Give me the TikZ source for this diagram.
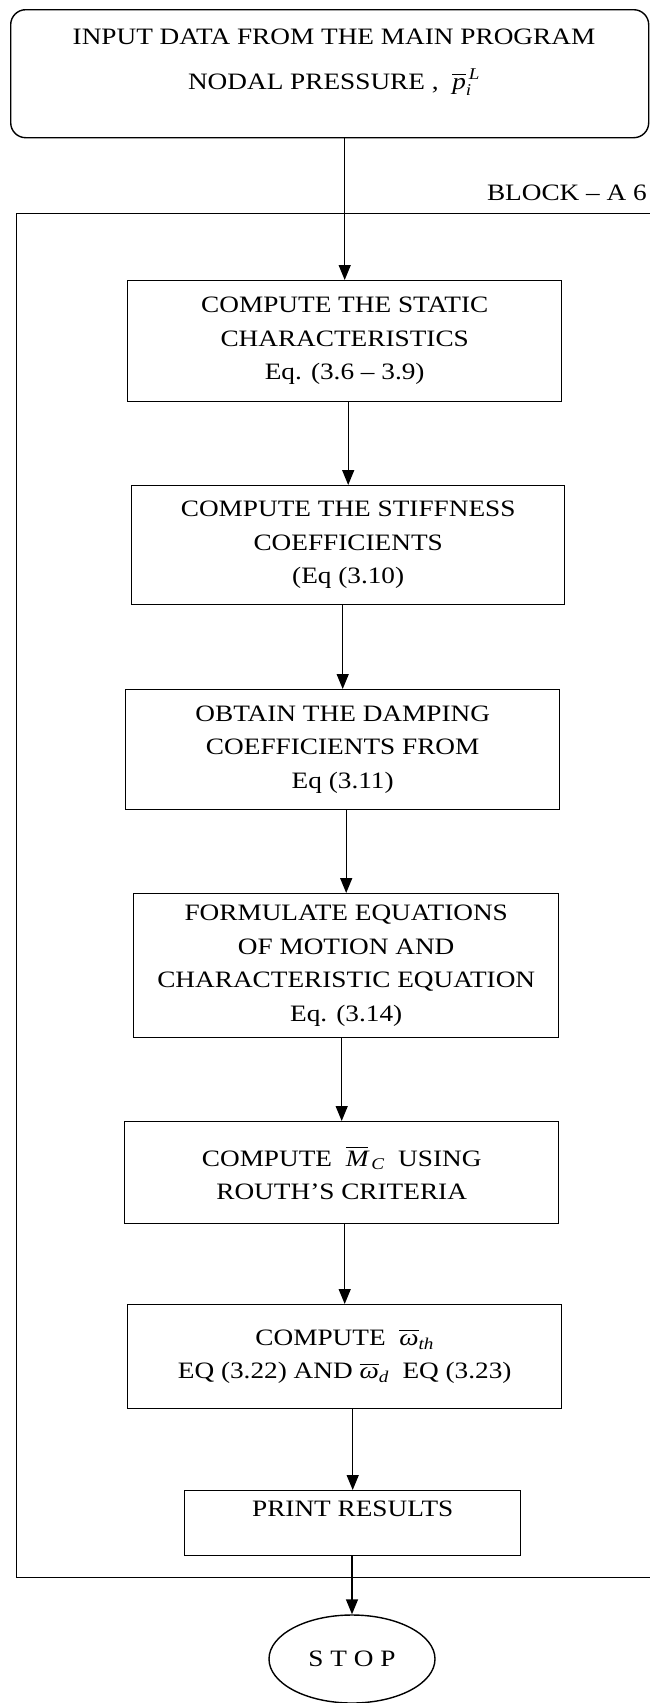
\documentclass[tikz,border=0pt]{standalone}
\usepackage{amsmath}
\usepackage{fontspec}
\setmainfont[FakeStretch=1.16]{Liberation Serif}
\usetikzlibrary{arrows.meta,shapes.geometric}
\newcommand{\itx}[1]{\text{\itshape #1}}
\begin{document}
\begin{tikzpicture}[x=1pt,y=-1pt,
  box/.style={draw, line width=1.4pt, align=center, inner sep=0pt, anchor=north west,
    font=\fontsize{23.5}{33.5}\selectfont},
  arr/.style={line width=1.4pt, -{Triangle[length=15pt,width=12pt]}}]
\useasboundingbox (0,0) rectangle (649,1703);
% top input box
\node[draw, line width=1.4pt, rounded corners=15pt, anchor=north west,
  minimum width=638pt, minimum height=128pt, inner sep=0pt] (in) at (10,9) {};
\node[align=center, font=\fontsize{23.5}{45}\selectfont, inner sep=0pt] (intext) at (334,62)
  {INPUT DATA FROM THE MAIN PROGRAM\\NODAL PRESSURE ,\ \ $\overline{\itx{p}}_{\itx{i}}^{\,\itx{L}}$};
% block frame
\node[draw, line width=1.4pt, anchor=north west, minimum width=660pt, minimum height=1364pt,
  inner sep=0pt] (frame) at (16,213) {};
\node[anchor=base east, font=\fontsize{23.5}{30}\selectfont, inner sep=0pt] (blk) at (647,200) {BLOCK -- A 6};
% process boxes
\node[box, minimum width=434pt, minimum height=121pt] (b1) at (127,280)
  {COMPUTE THE STATIC\\CHARACTERISTICS\\Eq. (3.6 -- 3.9)};
\node[box, minimum width=433pt, minimum height=119pt] (b2) at (131,485)
  {COMPUTE THE STIFFNESS\\COEFFICIENTS\\(Eq (3.10)};
\node[box, minimum width=434pt, minimum height=120pt] (b3) at (125,689)
  {OBTAIN THE DAMPING\\COEFFICIENTS FROM\\Eq (3.11)};
\node[box, minimum width=425pt, minimum height=144pt] (b4) at (133,893)
  {FORMULATE EQUATIONS\\OF MOTION AND\\CHARACTERISTIC EQUATION\\Eq. (3.14)};
\node[box, minimum width=434pt, minimum height=102pt] (b5) at (124,1121)
  {COMPUTE\ \ $\overline{\itx{M}}_{\,\itx{C}}$\ \ USING\\ROUTH'S CRITERIA};
\node[box, minimum width=434pt, minimum height=104pt] (b6) at (127,1304)
  {COMPUTE\ \ $\overline{\itx{ω}}_{\itx{th}}$\\EQ (3.22) AND\ $\overline{\itx{ω}}_{\itx{d}}$\ \ EQ (3.23)};
\node[box, minimum width=336pt, minimum height=65pt, text height=12pt, text depth=26pt] (pr) at (184,1490)
  {PRINT RESULTS};
\node[draw, line width=1.4pt, ellipse, minimum width=166pt, minimum height=88pt, inner sep=0pt,
  font=\fontsize{23.5}{28}\selectfont] (stop) at (352,1659) {S T O P};
% connectors
\draw[arr] (b1.north |- in.south) -- (b1.north);
\draw[arr] (b2.north |- b1.south) -- (b2.north);
\draw[arr] (b3.north |- b2.south) -- (b3.north);
\draw[arr] (b4.north |- b3.south) -- (b4.north);
\draw[arr] (b5.north |- b4.south) -- (b5.north);
\draw[arr] (b6.north |- b5.south) -- (b6.north);
\draw[arr] (pr.north |- b6.south) -- (pr.north);
\draw[arr] (stop.north |- pr.south) -- (stop.north);
\end{tikzpicture}
\end{document}
